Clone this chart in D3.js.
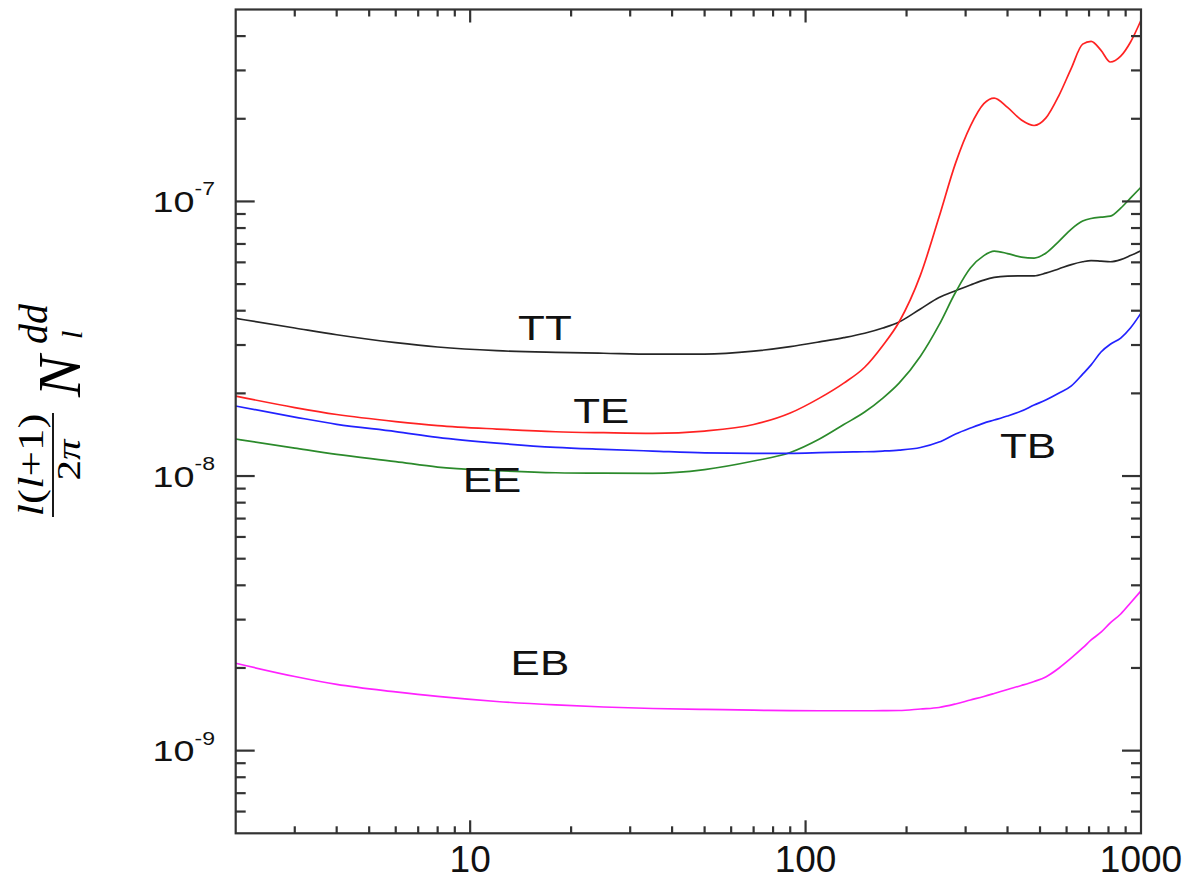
<!DOCTYPE html>
<html>
<head>
<meta charset="utf-8">
<script src="https://cdn.jsdelivr.net/npm/d3@7"></script>
<style>
  html, body { margin: 0; padding: 0; background: #fff; }
  svg { display: block; }
</style>
</head>
<body>
<svg id="chart" width="1186" height="878"></svg>
<script>
// multipole grid shared by all curves
const ell = [2, 3, 4, 6, 8, 12, 18, 25, 35, 50, 70, 90, 110, 130, 150, 170, 190, 220, 250, 280,
  310, 340, 365, 400, 440, 480, 520, 570, 620, 670, 710, 760, 810, 870, 930, 1000];

const TT = [3.75e-8, 3.46e-8, 3.27e-8, 3.06e-8, 2.95e-8, 2.86e-8, 2.82e-8, 2.80e-8, 2.78e-8, 2.78e-8,
  2.85e-8, 2.96e-8, 3.08e-8, 3.19e-8, 3.31e-8, 3.46e-8, 3.64e-8, 4.06e-8, 4.47e-8, 4.73e-8,
  4.96e-8, 5.17e-8, 5.29e-8, 5.35e-8, 5.36e-8, 5.36e-8, 5.48e-8, 5.69e-8, 5.89e-8, 6.03e-8,
  6.09e-8, 6.06e-8, 6.03e-8, 6.14e-8, 6.35e-8, 6.62e-8];

const TE = [1.955e-8, 1.776e-8, 1.675e-8, 1.579e-8, 1.527e-8, 1.483e-8, 1.450e-8, 1.438e-8, 1.430e-8, 1.458e-8,
  1.540e-8, 1.696e-8, 1.922e-8, 2.18e-8, 2.49e-8, 2.99e-8, 3.64e-8, 5.39e-8, 8.77e-8, 1.379e-7,
  1.88e-7, 2.27e-7, 2.38e-7, 2.20e-7, 1.98e-7, 1.89e-7, 2.01e-7, 2.44e-7, 3.06e-7, 3.74e-7,
  3.83e-7, 3.55e-7, 3.22e-7, 3.38e-7, 3.80e-7, 4.57e-7];

const EE = [1.364e-8, 1.264e-8, 1.199e-8, 1.129e-8, 1.078e-8, 1.047e-8, 1.028e-8, 1.024e-8, 1.023e-8, 1.056e-8,
  1.134e-8, 1.218e-8, 1.364e-8, 1.540e-8, 1.710e-8, 1.923e-8, 2.18e-8, 2.73e-8, 3.55e-8, 4.67e-8,
  5.72e-8, 6.35e-8, 6.59e-8, 6.46e-8, 6.27e-8, 6.22e-8, 6.48e-8, 7.17e-8, 7.93e-8, 8.48e-8,
  8.67e-8, 8.77e-8, 8.84e-8, 9.45e-8, 1.028e-7, 1.127e-7];

const TB = [1.798e-8, 1.640e-8, 1.543e-8, 1.452e-8, 1.383e-8, 1.318e-8, 1.272e-8, 1.251e-8, 1.233e-8, 1.215e-8,
  1.210e-8, 1.210e-8, 1.216e-8, 1.223e-8, 1.226e-8, 1.233e-8, 1.243e-8, 1.270e-8, 1.330e-8, 1.422e-8,
  1.495e-8, 1.559e-8, 1.599e-8, 1.654e-8, 1.724e-8, 1.813e-8, 1.891e-8, 2.005e-8, 2.13e-8, 2.35e-8,
  2.54e-8, 2.83e-8, 3.02e-8, 3.18e-8, 3.46e-8, 3.92e-8];

const EB = [2.080e-9, 1.862e-9, 1.742e-9, 1.636e-9, 1.575e-9, 1.510e-9, 1.467e-9, 1.442e-9, 1.424e-9, 1.413e-9,
  1.404e-9, 1.398e-9, 1.397e-9, 1.397e-9, 1.397e-9, 1.398e-9, 1.400e-9, 1.418e-9, 1.436e-9, 1.479e-9,
  1.529e-9, 1.575e-9, 1.615e-9, 1.670e-9, 1.727e-9, 1.786e-9, 1.855e-9, 2.0e-9, 2.175e-9, 2.365e-9,
  2.53e-9, 2.70e-9, 2.92e-9, 3.145e-9, 3.45e-9, 3.82e-9];

const seriesNames = ['TT', 'TE', 'EE', 'TB', 'EB'];
const seriesValues = [TT, TE, EE, TB, EB];
// where each curve name sits, in data coordinates (ell, value)
const labelEll = [13.9, 20.3, 9.5, 380, 13.2];
const labelVal = [3.13e-8, 1.56e-8, 8.75e-9, 1.16e-8, 1.89e-9];

const xDomain = [2, 1000];
const yDomain = [5e-10, 5e-7];
const xTickLabels = [10, 100, 1000];
const yTickExponents = [-7, -8, -9];

const colors = {
    TT: '#262626',
    TE: '#ff2222',
    EE: '#2b8a2b',
    TB: '#2222ff',
    EB: '#ff22ff'
};

const plotLeft = 235.7, plotRight = 1141, plotTop = 9.5, plotBottom = 833.3;
const axisColor = '#333';

const svg = d3.select('#chart');

const x = d3.scaleLog().domain(xDomain).range([plotLeft, plotRight]);
const y = d3.scaleLog().domain(yDomain).range([plotBottom, plotTop]);

const isPow10 = v => Math.abs(Math.log10(v) - Math.round(Math.log10(v))) < 1e-6;

// curves
const line = d3.line()
    .x(d => x(d[0]))
    .y(d => y(d[1]))
    .curve(d3.curveMonotoneX);

const curves = svg.append('g').attr('fill', 'none');
seriesNames.forEach((name, i) => {
    curves.append('path')
        .datum(ell.map((l, j) => [l, seriesValues[i][j]]))
        .attr('d', line)
        .attr('stroke', colors[name])
        .attr('stroke-width', 1.7);
});

// frame
const frame = svg.append('g').attr('stroke', axisColor).attr('stroke-width', 2.2);
frame.append('rect')
    .attr('x', plotLeft)
    .attr('y', plotTop)
    .attr('width', plotRight - plotLeft)
    .attr('height', plotBottom - plotTop)
    .attr('fill', 'none');

// x ticks, bottom and top
x.ticks().filter(t => t > xDomain[0] && t < xDomain[1]).forEach(t => {
    const len = isPow10(t) ? 13 : 7;
    frame.append('line').attr('x1', x(t)).attr('x2', x(t)).attr('y1', plotBottom).attr('y2', plotBottom - len);
    frame.append('line').attr('x1', x(t)).attr('x2', x(t)).attr('y1', plotTop).attr('y2', plotTop + len);
});

// y ticks, left and right
y.ticks().filter(t => t > yDomain[0] * 1.0001 && t < yDomain[1] * 0.9999).forEach(t => {
    const len = isPow10(t) ? 19 : 10;
    frame.append('line').attr('x1', plotLeft).attr('x2', plotLeft + len).attr('y1', y(t)).attr('y2', y(t));
    frame.append('line').attr('x1', plotRight).attr('x2', plotRight - len).attr('y1', y(t)).attr('y2', y(t));
});

// tick labels
const labels = svg.append('g')
    .attr('font-family', 'Liberation Sans, Arial, sans-serif')
    .attr('fill', '#111');

xTickLabels.forEach(t => {
    labels.append('text')
        .attr('x', x(t))
        .attr('y', 871.5)
        .attr('text-anchor', 'middle')
        .attr('font-size', 37)
        .text(t);
});

yTickExponents.forEach(e => {
    const t = labels.append('text')
        .attr('transform', `translate(215, ${y(Math.pow(10, e)) + 10.5}) scale(1.28, 1)`)
        .attr('text-anchor', 'end')
        .attr('font-size', 29.5);
    t.append('tspan').text('10');
    t.append('tspan').attr('font-size', 18).attr('dy', -16.6).text(String(e));
});

// curve names
seriesNames.forEach((name, i) => {
    labels.append('text')
        .attr('transform', `translate(${x(labelEll[i])}, ${y(labelVal[i])}) scale(1.22, 1)`)
        .attr('font-size', 36)
        .text(name);
});

// y axis title: l(l+1)/2pi N_l^dd
const ylab = svg.append('g')
    .attr('transform', 'translate(53, 465) rotate(-90)')
    .attr('font-family', 'Liberation Serif, Times New Roman, serif')
    .attr('fill', '#000');

const num = ylab.append('text')
    .attr('transform', 'translate(0, -10) scale(1.25, 1)')
    .attr('text-anchor', 'middle')
    .attr('font-size', 36);
num.append('tspan').attr('font-style', 'italic').text('l');
num.append('tspan').text('(');
num.append('tspan').attr('font-style', 'italic').text('l');
num.append('tspan').text('+1)');

ylab.append('line')
    .attr('x1', -52).attr('x2', 52)
    .attr('y1', 0).attr('y2', 0)
    .attr('stroke', '#000')
    .attr('stroke-width', 1.8);

const den = ylab.append('text')
    .attr('transform', 'translate(5, 27) scale(1.2, 1)')
    .attr('text-anchor', 'middle')
    .attr('font-size', 34);
den.append('tspan').text('2');
den.append('tspan').attr('font-style', 'italic').text('π');

ylab.append('text')
    .attr('x', 68).attr('y', 27)
    .attr('font-size', 62)
    .attr('font-style', 'italic')
    .text('N');
ylab.append('text')
    .attr('x', 121).attr('y', -6)
    .attr('font-size', 40)
    .attr('font-style', 'italic')
    .text('dd');
ylab.append('text')
    .attr('x', 126).attr('y', 29)
    .attr('font-size', 30)
    .attr('font-style', 'italic')
    .text('l');
</script>
</body>
</html>
